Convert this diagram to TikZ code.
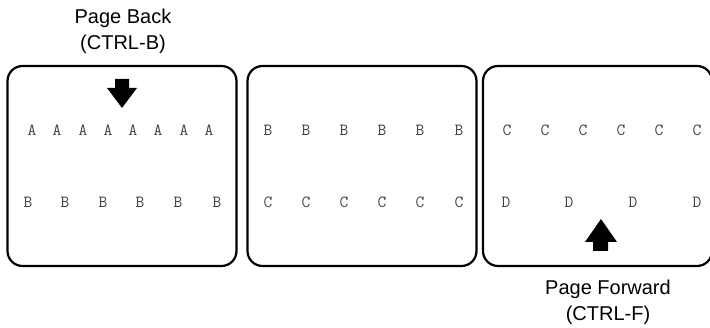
\documentclass[tikz,border=0pt]{standalone}
\usepackage{fontspec}
\setmainfont{Liberation Sans}
\begin{document}
\begin{tikzpicture}[x=1pt,y=-1pt,
  screen/.style={draw=black, line width=2.2pt, rounded corners=15pt, minimum width=229pt, minimum height=200pt, inner sep=0pt},
  letter/.style={font=\ttfamily\fontsize{17}{17}\selectfont, text=black!75, inner sep=0pt},
  caption/.style={font=\fontsize{20}{24}\selectfont, align=center, inner sep=0pt},
  bigarrow/.style={fill=black}]
\useasboundingbox (0,0) rectangle (710,328);
% screens
\node[screen] (s1) at (122,166) {};
\node[screen] (s2) at (362,166) {};
\node[screen] (s3) at (597.5,166) {};
% screen 1
\foreach \x [count=\i] in {32,57,83,108,133,158,184,209}
  \node[letter] (a\i) at (\x,130) {A};
\foreach \x [count=\i] in {28,65,103,140,178,217}
  \node[letter] (b\i) at (\x,202) {B};
% screen 2
\foreach \x [count=\i] in {268,306,344,382,420,459}
  \node[letter] (bb\i) at (\x,130) {B};
\foreach \x [count=\i] in {268,306,344,382,420,459}
  \node[letter] (c\i) at (\x,202) {C};
% screen 3
\foreach \x [count=\i] in {507,545,583,621,659,697}
  \node[letter] (cc\i) at (\x,130) {C};
\foreach \x [count=\i] in {506,569,633,697}
  \node[letter] (d\i) at (\x,202) {D};
% arrows
\fill[bigarrow] (115,79) -- (129,79) -- (129,88) -- (137,88) -- (122,108) -- (107,88) -- (115,88) -- cycle;
\fill[bigarrow] (593,251) -- (608,251) -- (608,242) -- (617,242) -- (601,219) -- (585,242) -- (593,242) -- cycle;
% captions
\node[caption] (back) at (123,18) {Page Back};
\node[caption] (backkey) at (123,44) {(CTRL-B)};
\node[caption] (fwd) at (608,289) {Page Forward};
\node[caption] (fwdkey) at (608,315) {(CTRL-F)};
\end{tikzpicture}
\end{document}
